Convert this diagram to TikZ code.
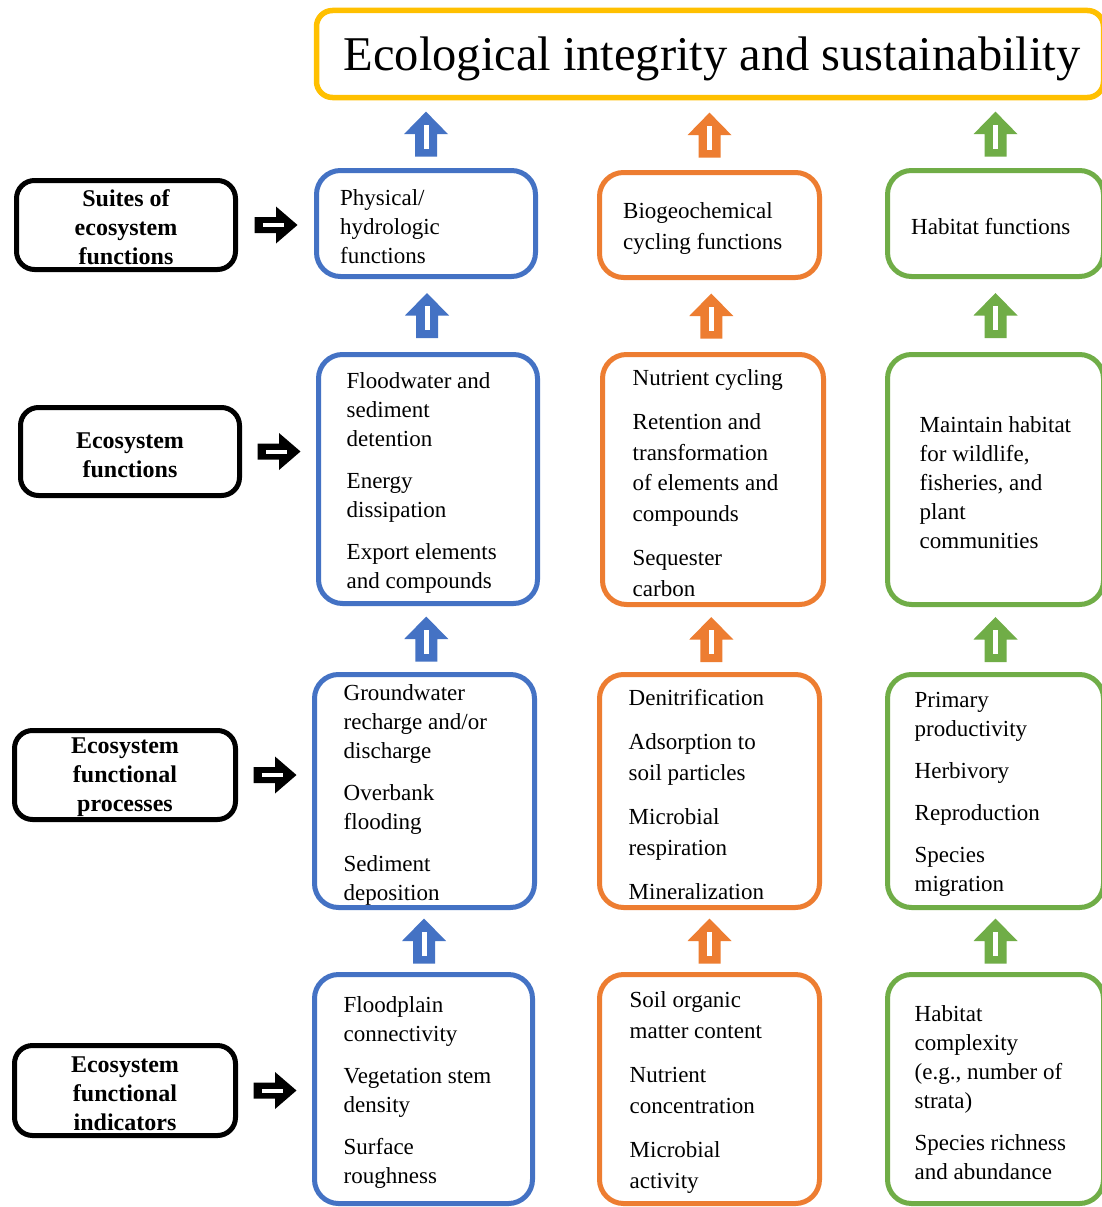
\documentclass[tikz,border=0pt]{standalone}
\usepackage{fontspec}
\setmainfont{Liberation Serif}
\usetikzlibrary{calc}

\definecolor{colblue}{HTML}{4472C4}
\definecolor{colorange}{HTML}{ED7D31}
\definecolor{colgreen}{HTML}{70AD47}
\definecolor{colgold}{HTML}{FFC000}

% block arrow pointing up, #1 colour, #2 centre
\newcommand\uparr[2]{%
  \begin{scope}[shift={(#2)}]
    \fill[#1] (-11,22.5) -- (-11,0) -- (-22,0) -- (0,-22.5) -- (22,0) -- (11,0) -- (11,22.5) -- cycle;
    \fill[white] (-2.5,-9.5) rectangle (2.5,14.5);
  \end{scope}}
% block arrow pointing right, #1 centre
\newcommand\rightarr[1]{%
  \begin{scope}[shift={(#1)}]
    \fill[black] (-21.5,-8) -- (0,-8) -- (0,-18.5) -- (21.5,0) -- (0,18.5) -- (0,8) -- (-21.5,8) -- cycle;
    \fill[white] (-13,-2) rectangle (8,2);
  \end{scope}}

\begin{document}
\begin{tikzpicture}[x=1pt,y=-1pt,
    colbox/.style={draw=#1, line width=5pt, rounded corners=24pt, inner sep=0pt},
    lblbox/.style={draw=black, line width=5pt, rounded corners=18pt, align=center,
      font=\fontsize{24}{29}\selectfont\bfseries},
    lbltxt/.style={inner sep=0pt, align=center, font=\fontsize{24}{29}\selectfont\bfseries},
    txt/.style={anchor=west, inner sep=0pt, yshift=-3.5pt, align=left, font=\fontsize{23}{29}\selectfont},
    otxt/.style={txt, font=\fontsize{23}{30.5}\selectfont}]
    \fill[white] (0,0) rectangle (1102,1207);
    \useasboundingbox (0,0) rectangle (1102,1207);

    \node[draw=colgold, line width=5.5pt, rounded corners=16pt, minimum width=787pt, minimum height=87pt] (top) at (710,54) {};
    \node[inner sep=0pt, font=\fontsize{48.5}{50}\selectfont] (topt) at ([xshift=2,yshift=-4.5]top.center) {Ecological integrity and sustainability};

    % left labels
    \node[lblbox, minimum width=219pt, minimum height=89pt] (l1) at (126,225) {};
    \node[lblbox, minimum width=219pt, minimum height=88pt] (l2) at (130,451.5) {};
    \node[lblbox, minimum width=221pt, minimum height=89pt] (l3) at (125,775) {};
    \node[lblbox, minimum width=221pt, minimum height=90pt] (l4) at (125,1090.5) {};
    \node[lbltxt] (l1t) at ([yshift=-2.5]l1.center) {Suites of\\ecosystem\\functions};
    \node[lbltxt] (l2t) at ([yshift=-3.5]l2.center) {Ecosystem\\functions};
    \node[lbltxt] (l3t) at ([yshift=-2]l3.center) {Ecosystem\\functional\\processes};
    \node[lbltxt] (l4t) at ([yshift=-3]l4.center) {Ecosystem\\functional\\indicators};

    % blue column
    \node[colbox=colblue, minimum width=219pt, minimum height=106pt] (b1) at (426,223.5) {};
    \node[colbox=colblue, minimum width=219pt, minimum height=249pt] (b2) at (428,479) {};
    \node[colbox=colblue, minimum width=220pt, minimum height=233pt] (b3) at (424.5,791) {};
    \node[colbox=colblue, minimum width=218pt, minimum height=229pt] (b4) at (423.5,1089) {};
    \node[txt] (b1t) at ([xshift=26]b1.west) {Physical/\\hydrologic\\functions};
    \node[txt] (b2t) at ([xshift=30.5]b2.west) {Floodwater and\\sediment\\detention\\[13pt]Energy\\dissipation\\[13pt]Export elements\\and compounds};
    \node[txt] (b3t) at ([xshift=31.5]b3.west) {Groundwater\\recharge and/or\\discharge\\[13pt]Overbank\\flooding\\[13pt]Sediment\\deposition};
    \node[txt] (b4t) at ([xshift=31.5]b4.west) {Floodplain\\connectivity\\[13pt]Vegetation stem\\density\\[13pt]Surface\\roughness};

    % orange column
    \node[colbox=colorange, minimum width=220pt, minimum height=105pt] (o1) at (709.5,225) {};
    \node[colbox=colorange, minimum width=221pt, minimum height=250pt] (o2) at (713,479.5) {};
    \node[colbox=colorange, minimum width=220pt, minimum height=233pt] (o3) at (709.5,791) {};
    \node[colbox=colorange, minimum width=220pt, minimum height=229pt] (o4) at (709.5,1089) {};
    \node[otxt] (o1t) at ([xshift=26]o1.west) {Biogeochemical\\cycling functions};
    \node[otxt] (o2t) at ([xshift=32.5]o2.west) {Nutrient cycling\\[14pt]Retention and\\transformation\\of elements and\\compounds\\[14pt]Sequester\\carbon};
    \node[otxt] (o3t) at ([xshift=31.5]o3.west) {Denitrification\\[14pt]Adsorption to\\soil particles\\[14pt]Microbial\\respiration\\[14pt]Mineralization};
    \node[otxt] (o4t) at ([xshift=32.5]o4.west) {Soil organic\\matter content\\[14pt]Nutrient\\concentration\\[14pt]Microbial\\activity};

    % green column
    \node[colbox=colgreen, minimum width=216pt, minimum height=106pt] (g1) at (995.5,223.5) {};
    \node[colbox=colgreen, minimum width=216pt, minimum height=250pt] (g2) at (995.5,479.5) {};
    \node[colbox=colgreen, minimum width=216pt, minimum height=233pt] (g3) at (995.5,791) {};
    \node[colbox=colgreen, minimum width=216pt, minimum height=229pt] (g4) at (995.5,1089) {};
    \node[txt] (g1t) at ([xshift=26]g1.west) {Habitat functions};
    \node[txt] (g2t) at ([xshift=34.5]g2.west) {Maintain habitat\\for wildlife,\\fisheries, and\\plant\\communities};
    \node[txt] (g3t) at ([xshift=29.5]g3.west) {Primary\\productivity\\[13pt]Herbivory\\[13pt]Reproduction\\[13pt]Species\\migration};
    \node[txt] (g4t) at ([xshift=29.5]g4.west) {Habitat\\complexity\\(e.g., number of\\strata)\\[13pt]Species richness\\and abundance};

    % arrows up
    \uparr{colblue}{$(b1.north)!0.5!(b1.north |- top.south)$}
    \uparr{colorange}{$(o1.north)!0.5!(o1.north |- top.south)$}
    \uparr{colgreen}{$(g1.north)!0.5!(g1.north |- top.south)$}
    \uparr{colblue}{$(b2.north)!0.5!(b1.south)$}
    \uparr{colorange}{$(o2.north)!0.5!(o1.south)$}
    \uparr{colgreen}{$(g2.north)!0.5!(g1.south)$}
    \uparr{colblue}{$(b3.north)!0.5!(b2.south)$}
    \uparr{colorange}{$(o3.north)!0.5!(o2.south)$}
    \uparr{colgreen}{$(g3.north)!0.5!(g2.south)$}
    \uparr{colblue}{$(b4.north)!0.5!(b3.south)$}
    \uparr{colorange}{$(o4.north)!0.5!(o3.south)$}
    \uparr{colgreen}{$(g4.north)!0.5!(g3.south)$}

    % arrows right
    \rightarr{$(l1.east)!0.5!(l1.east -| b1.west)$}
    \rightarr{$(l2.east)!0.5!(l2.east -| b2.west)$}
    \rightarr{$(l3.east)!0.5!(l3.east -| b3.west)$}
    \rightarr{$(l4.east)!0.5!(l4.east -| b4.west)$}
\end{tikzpicture}
\end{document}
